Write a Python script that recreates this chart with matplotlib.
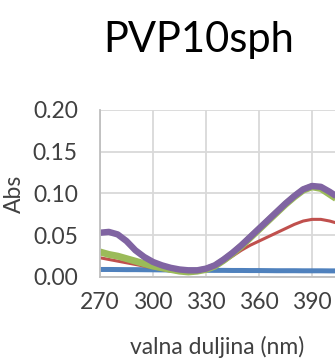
import numpy as np
import matplotlib
matplotlib.use('Agg')
import matplotlib.pyplot as plt

plt.rcParams['font.family'] = ['Lato', 'DejaVu Sans']

# wavelength (nm)
wl = [270, 275, 280, 285, 290, 295, 300, 305, 310, 315, 320, 325, 330, 335,
      340, 345, 350, 355, 360, 365, 370, 375, 380, 385, 390, 395, 400, 405]

abs_blue = [0.0090, 0.0090, 0.0089, 0.0088, 0.0088, 0.0087, 0.0086, 0.0085, 0.0084, 0.0083,
            0.0082, 0.0081, 0.0080, 0.0079, 0.0079, 0.0078, 0.0078, 0.0077, 0.0077, 0.0076,
            0.0075, 0.0075, 0.0075, 0.0074, 0.0074, 0.0074, 0.0073, 0.0073]
abs_red = [0.023, 0.021, 0.019, 0.017, 0.015, 0.013, 0.011, 0.009, 0.007, 0.006,
           0.005, 0.006, 0.008, 0.012, 0.018, 0.025, 0.032, 0.038, 0.043, 0.048,
           0.053, 0.058, 0.063, 0.067, 0.069, 0.069, 0.067, 0.064]
abs_green = [0.030, 0.027, 0.025, 0.022, 0.019, 0.016, 0.013, 0.011, 0.009, 0.007,
             0.006, 0.007, 0.009, 0.013, 0.020, 0.028, 0.037, 0.047, 0.057, 0.067,
             0.077, 0.087, 0.096, 0.104, 0.108, 0.106, 0.099, 0.092]
abs_purple = [0.053, 0.054, 0.051, 0.043, 0.032, 0.024, 0.018, 0.014, 0.011, 0.009,
              0.008, 0.008, 0.010, 0.014, 0.021, 0.029, 0.038, 0.048, 0.058, 0.068,
              0.078, 0.088, 0.097, 0.105, 0.109, 0.108, 0.102, 0.095]

xticks = [270, 300, 330, 360, 390]
yticks = [0.00, 0.05, 0.10, 0.15, 0.20]

fig = plt.figure(figsize=(3.35, 3.6), dpi=100)
ax = fig.add_axes([0.2985, 0.2306, 0.7015, 0.4639])

ax.plot(wl, abs_blue, color='#4F81BD', lw=3.6, solid_capstyle='butt')
ax.plot(wl, abs_red, color='#C0504D', lw=2.2, solid_capstyle='butt')
ax.plot(wl, abs_green, color='#9BBB59', lw=5.0, solid_capstyle='butt')
ax.plot(wl, abs_purple, color='#8064A2', lw=4.6, solid_capstyle='butt')

ax.set_xlim(270, 403)
ax.set_ylim(0, 0.2)
ax.set_xticks(xticks)
ax.set_yticks(yticks)
ax.set_yticklabels(['%.2f' % v for v in yticks])
ax.grid(True, color='#d9d9d9', lw=1.3)
ax.set_axisbelow(True)
for s in ['top', 'right']:
    ax.spines[s].set_visible(False)
for s in ['left', 'bottom']:
    ax.spines[s].set_color('#bfbfbf')
    ax.spines[s].set_linewidth(1.3)
ax.tick_params(axis='both', length=0, labelsize=16.5, colors='#404040')
ax.tick_params(axis='y', pad=16)
ax.tick_params(axis='x', pad=11)

ax.set_xlabel('valna duljina (nm)', fontsize=16.5, color='#404040', labelpad=16)
ax.set_ylabel('Abs', fontsize=16.5, color='#404040', labelpad=6)
fig.text(0.594, 0.889, 'PVP10sph', fontsize=30, color='#000000', ha='center', va='center')

fig.savefig('out.png', dpi=100)
